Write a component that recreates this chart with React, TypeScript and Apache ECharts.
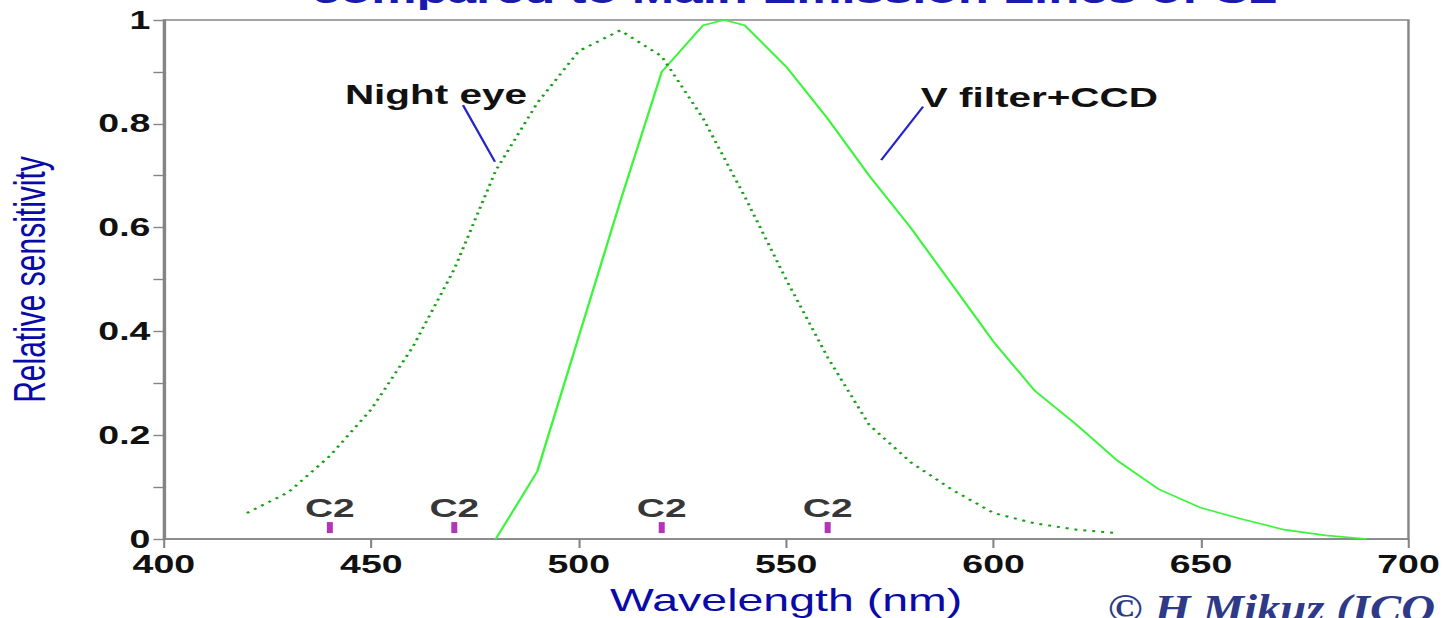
import React, { useEffect, useRef } from "react";
import * as echarts from "echarts";

// ---- data ----
const nightWavelengths = [420, 430, 440, 450, 460, 470, 480, 490, 500, 510, 520, 530, 540, 550, 560, 570, 580, 590, 600, 610, 620, 630];
const nightValues = [0.05, 0.09, 0.16, 0.25, 0.37, 0.52, 0.71, 0.84, 0.94, 0.98, 0.93, 0.81, 0.66, 0.5, 0.35, 0.22, 0.148, 0.095, 0.05, 0.03, 0.018, 0.011];

const vWavelengths = [480, 490, 500, 510, 520, 530, 535, 540, 550, 560, 570, 580, 590, 600, 610, 620, 630, 640, 650, 660, 670, 680, 690];
const vValues = [0, 0.13, 0.39, 0.65, 0.9, 0.99, 1.0, 0.99, 0.91, 0.81, 0.7, 0.6, 0.49, 0.38, 0.285, 0.22, 0.15, 0.095, 0.06, 0.038, 0.018, 0.007, 0];

const c2Wavelengths = [440, 470, 520, 560];
const c2Level = 0.022;

const nightLeader = [[472.1, 0.836], [479.8, 0.727]];
const vLeader = [[583, 0.833], [572.9, 0.73]];

const titleText = "compared to Main Emission Lines of C2";
const xName = "Wavelength (nm)";
const yName = "Relative sensitivity";
const nightLabel = "Night eye";
const vLabel = "V filter+CCD";
const copyright = "© H Mikuz (ICO 1998)";

// ---- layout ----
const W = 965;
const H = 618;
const SX = 1447 / W;
const FONT = "'Liberation Sans', Arial, sans-serif";

const zip = (xs: number[], ys: number[]) => xs.map((x, i) => [x, ys[i]]);

export default function App() {
  const ref = useRef<HTMLDivElement>(null);

  useEffect(() => {
    if (!ref.current) return;
    const chart = echarts.init(ref.current, null, { renderer: "svg" });
    const option: any = {
      animation: false,
      backgroundColor: "#ffffff",
      grid: {
        left: 109.3,
        right: W - 939.3,
        top: 20,
        bottom: H - 539,
        containLabel: false,
        outerBoundsMode: "none",
        show: true,
        borderColor: "#858585",
        borderWidth: 1.6,
        backgroundColor: "transparent",
      },
      xAxis: {
        type: "value",
        min: 400,
        max: 700,
        interval: 50,
        name: xName,
        nameLocation: "middle",
        nameGap: 46,
        nameTextStyle: { color: "#0a0aa8", fontSize: 31, fontFamily: FONT },
        axisLine: { show: true, lineStyle: { color: "#858585", width: 1.6 } },
        axisTick: { show: true, inside: false, length: 9, lineStyle: { color: "#858585", width: 1.4 } },
        axisLabel: { color: "#111", fontSize: 25, fontWeight: "bold", fontFamily: FONT, margin: 13 },
        splitLine: { show: false },
      },
      yAxis: {
        type: "value",
        min: 0,
        max: 1,
        interval: 0.2,
        name: yName,
        nameLocation: "middle",
        nameRotate: 90,
        nameGap: 75,
        nameTextStyle: { color: "#0a0aa8", fontSize: 30, fontFamily: FONT },
        axisLine: { show: true, lineStyle: { color: "#858585", width: 1.6 } },
        axisTick: { show: true, inside: false, length: 7, lineStyle: { color: "#858585", width: 1.4 } },
        minorTick: { show: true, splitNumber: 2, length: 7, lineStyle: { color: "#858585", width: 1.4 } },
        axisLabel: { color: "#111", fontSize: 25, fontWeight: "bold", fontFamily: FONT, margin: 9 },
        splitLine: { show: false },
        minorSplitLine: { show: false },
      },
      series: [
        {
          name: "Night eye",
          type: "line",
          data: zip(nightWavelengths, nightValues),
          showSymbol: false,
          symbol: "none",
          lineStyle: { color: "#16a016", width: 2, type: [2, 4] },
          z: 3,
        },
        {
          name: "V filter+CCD",
          type: "line",
          data: zip(vWavelengths, vValues),
          showSymbol: false,
          symbol: "none",
          lineStyle: { color: "#3cf53c", width: 1.6 },
          z: 2,
        },
        {
          name: "nightLeader",
          type: "line",
          data: nightLeader,
          symbol: "none",
          lineStyle: { color: "#2323c8", width: 1.6 },
        },
        {
          name: "vLeader",
          type: "line",
          data: vLeader,
          symbol: "none",
          lineStyle: { color: "#2323c8", width: 1.6 },
        },
        {
          name: "C2",
          type: "scatter",
          data: c2Wavelengths.map((w) => [w, c2Level]),
          symbol: "rect",
          symbolSize: [4, 11],
          itemStyle: { color: "#a000a8" },
          label: {
            show: true,
            formatter: "C2",
            position: "top",
            distance: 1,
            color: "#000",
            fontSize: 26,
            fontWeight: "bold",
            fontFamily: FONT,
          },
          z: 4,
        },
      ],
      graphic: [
        {
          type: "text",
          x: 530,
          y: 8,
          style: {
            text: titleText,
            fill: "#1a1ab0",
            fontSize: 34,
            fontWeight: "bold",
            fontFamily: FONT,
            align: "center",
            verticalAlign: "bottom",
          },
        },
        {
          type: "text",
          x: 230,
          y: 95,
          style: {
            text: nightLabel,
            fill: "#111",
            fontSize: 27,
            fontWeight: "bold",
            fontFamily: FONT,
            align: "left",
            verticalAlign: "middle",
          },
        },
        {
          type: "text",
          x: 614,
          y: 98,
          style: {
            text: vLabel,
            fill: "#111",
            fontSize: 27,
            fontWeight: "bold",
            fontFamily: FONT,
            align: "left",
            verticalAlign: "middle",
          },
        },
        {
          type: "text",
          x: 738.7,
          y: 588,
          scaleX: 0.78,
          style: {
            text: copyright,
            fill: "#2e3a87",
            fontSize: 40,
            fontWeight: "bold",
            fontStyle: "italic",
            fontFamily: "'Liberation Serif', 'Times New Roman', serif",
            align: "left",
            verticalAlign: "top",
          },
        },
      ],
    };
    chart.setOption(option);
    return () => chart.dispose();
  }, []);

  return (
    <div
      ref={ref}
      style={{
        position: "fixed",
        left: 0,
        top: 0,
        width: W,
        height: H,
        transform: `scaleX(${SX})`,
        transformOrigin: "0 0",
        background: "#fff",
      }}
    />
  );
}
